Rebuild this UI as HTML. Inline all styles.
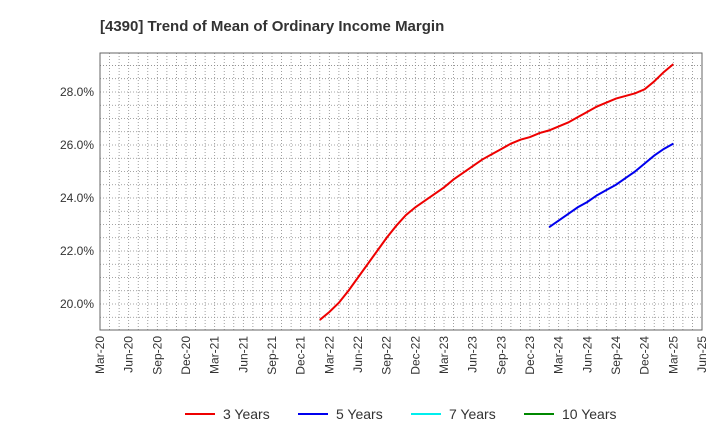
<!DOCTYPE html>
<html><head><meta charset="utf-8"><style>
body{margin:0;background:#fff;font-family:"Liberation Sans",sans-serif}
</style></head><body>
<svg id="chart" width="720" height="440" xmlns="http://www.w3.org/2000/svg">
<text x="100" y="31" font-size="15" font-weight="bold" fill="#333">[4390]  Trend of Mean of Ordinary Income Margin</text>
<g id="grid"></g><g id="axes"></g><g id="series"></g>
<g id="legend"></g>
</svg>
<script>
const xTickLabels=["Mar-20","Jun-20","Sep-20","Dec-20","Mar-21","Jun-21","Sep-21","Dec-21","Mar-22","Jun-22","Sep-22","Dec-22","Mar-23","Jun-23","Sep-23","Dec-23","Mar-24","Jun-24","Sep-24","Dec-24","Mar-25","Jun-25"];
const yTicks=[20,22,24,26,28];
const series3Start=23;
const series3=[19.4,19.7,20.05,20.5,21.0,21.5,22.0,22.5,22.95,23.35,23.65,23.9,24.15,24.4,24.7,24.95,25.2,25.45,25.65,25.85,26.05,26.2,26.3,26.45,26.55,26.7,26.85,27.05,27.25,27.45,27.6,27.75,27.85,27.95,28.1,28.4,28.75,29.0,29.05].slice(0,37).concat([29.05]);
const series5Start=47;
const series5=[22.9,23.15,23.4,23.65,23.85,24.1,24.3,24.5,24.75,25.0,25.3,25.6,25.85,26.05];
const legendLabels=["3 Years","5 Years","7 Years","10 Years"];
const legendColors=["#e00","#00e","#0ee","#080"];

const L=100,R=702,T=53,B=330,yMin=19.02,yMax=29.47,months=63;
const NS="http://www.w3.org/2000/svg";
const X=m=>L+m*(R-L)/months;
const Y=v=>B-(v-yMin)/(yMax-yMin)*(B-T);
function mk(tag,attrs,parent){const e=document.createElementNS(NS,tag);for(const k in attrs)e.setAttribute(k,attrs[k]);parent.appendChild(e);return e;}
const grid=document.getElementById('grid'),axes=document.getElementById('axes'),ser=document.getElementById('series'),leg=document.getElementById('legend');
for(let m=1;m<months;m++){const l=mk('line',{x1:X(m),x2:X(m),y1:T,y2:B,stroke:'#888','stroke-width':0.8,'stroke-dasharray':'1,2'},grid);

}
for(let v=19.5;v<29.5;v+=0.5){const l=mk('line',{x1:L,x2:R,y1:Y(v),y2:Y(v),stroke:'#888','stroke-width':0.8,'stroke-dasharray':'1,2'},grid);

}
const fr=mk('rect',{x:L,y:T,width:R-L,height:B-T,fill:'none',stroke:'#666'},axes);


yTicks.forEach(v=>{const t=mk('text',{x:L-6,y:Y(v)+4,'text-anchor':'end','font-size':12,fill:'#333'},axes);t.textContent=v.toFixed(1)+'%';

});
xTickLabels.forEach((s,i)=>{const x=X(i*3);const t=mk('text',{x:x+4,y:B+6,'text-anchor':'end','font-size':12,fill:'#333',transform:`rotate(-90 ${x+4} ${B+6})`},axes);t.textContent=s;

});
function line(vals,start,color,name){const p=mk('polyline',{points:vals.map((v,i)=>X(start+i)+','+Y(v)).join(' '),fill:'none',stroke:color,'stroke-width':2},ser);

}
line(series3,series3Start,'#e00','series-3-years');
line(series5,series5Start,'#00e','series-5-years');
const lx=[185,298,411,524];
legendLabels.forEach((s,i)=>{const g=mk('g',{},leg);


mk('line',{x1:lx[i],x2:lx[i]+30,y1:414,y2:414,stroke:legendColors[i],'stroke-width':2},g);
const t=mk('text',{x:lx[i]+38,y:419,'font-size':14,fill:'#333'},g);t.textContent=s;});
</script>
</body></html>
